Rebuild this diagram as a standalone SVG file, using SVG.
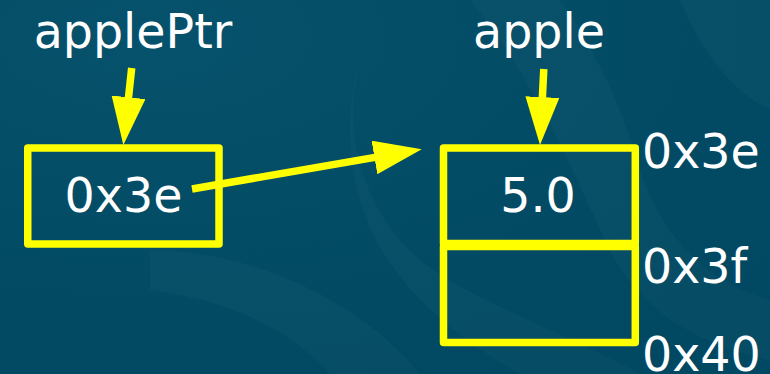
<svg xmlns="http://www.w3.org/2000/svg" width="770" height="374" viewBox="0 0 770 374">
  <defs>
    <marker id="head" viewBox="0 0 48 34" refX="2" refY="17" markerWidth="48" markerHeight="34" markerUnits="userSpaceOnUse" orient="auto">
      <path d="M0,0 L48,17 L0,34 z" fill="#ffff00"/>
    </marker>
    <radialGradient id="bg" cx="0.2" cy="0.1" r="1">
      <stop offset="0" stop-color="#06516b"/>
      <stop offset="1" stop-color="#014862"/>
    </radialGradient>
  </defs>
  <style>
    .cell { fill: none; stroke: #ffff00; stroke-width: 7.5; stroke-linejoin: round; }
    .wire { fill: none; stroke: #ffff00; stroke-width: 7.5; marker-end: url(#head); }
    .lbl { font-family: "DejaVu Sans", "Bitstream Vera Sans", sans-serif; font-size: 47.5px; fill: #ffffff; }
    .mid { text-anchor: middle; }
    .wm { fill: #ffffff; fill-opacity: 0.022; }
  </style>

  <!-- backdrop with faint decorative swirls -->
  <rect width="770" height="374" fill="url(#bg)"/>
  <g id="backdrop-swirls">
    <path class="wm" d="M385,10 C330,90 350,200 420,260 C470,300 560,330 640,374 L520,374 C440,330 380,270 360,200 C340,130 350,60 385,10 z"/>
    <path class="wm" d="M470,0 C520,60 560,140 600,230 C630,300 680,340 770,360 L770,300 C700,280 660,230 640,170 C620,100 590,40 560,0 z"/>
    <path class="wm" d="M150,250 C250,250 360,300 420,374 L330,374 C290,330 230,300 150,290 z"/>
    <path class="wm" d="M680,0 C700,50 730,90 770,110 L770,0 z"/>
  </g>

  <!-- pointer variable -->
  <g id="applePtr">
    <text class="lbl mid" x="133" y="48">applePtr</text>
    <rect class="cell" x="27.75" y="148" width="191.25" height="96"/>
    <text class="lbl mid" x="123.5" y="212">0x3e</text>
  </g>

  <!-- pointed-to variable occupying two memory cells -->
  <g id="apple">
    <text class="lbl mid" x="539" y="48">apple</text>
    <rect class="cell" x="443.5" y="148" width="191.8" height="95.5"/>
    <rect class="cell" x="443.5" y="246.5" width="191.8" height="96"/>
    <text class="lbl mid" x="538" y="212">5.0</text>
  </g>

  <!-- memory addresses -->
  <g id="addresses">
    <text class="lbl" x="642" y="168">0x3e</text>
    <text class="lbl" x="642" y="283">0x3f</text>
    <text class="lbl" x="642" y="371">0x40</text>
  </g>

  <g id="connectors">
    <line class="wire" x1="131.7" y1="68" x2="128.3" y2="99.3"/>
    <line class="wire" x1="543.8" y1="69" x2="542.3" y2="99.1"/>
    <line class="wire" x1="192" y1="189" x2="376.4" y2="157.1"/>
  </g>
</svg>
